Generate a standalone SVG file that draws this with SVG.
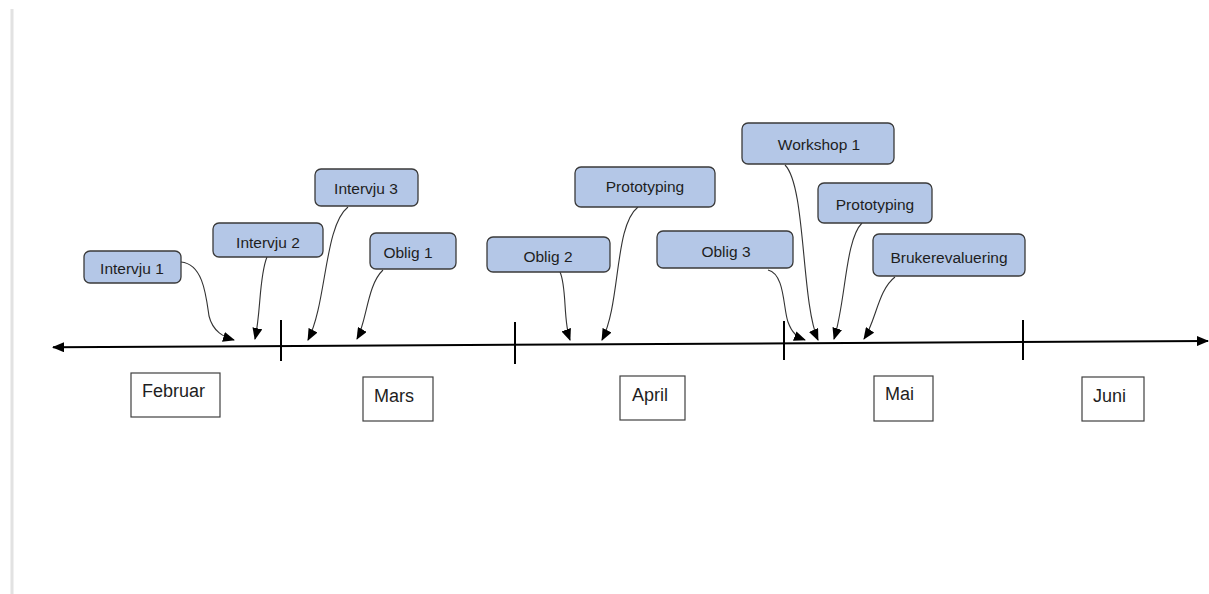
<svg xmlns="http://www.w3.org/2000/svg" width="1209" height="594" viewBox="0 0 1209 594">
<style>
.ev rect{fill:#b4c7e7;stroke:#3a3a3a;stroke-width:1.3}
.ev text{font-family:"Liberation Sans",Arial,sans-serif;font-size:15.5px;fill:#1e1e1e;text-anchor:middle}
.mo rect{fill:#fff;stroke:#404040;stroke-width:1.2}
.mo text{font-family:"Liberation Sans",Arial,sans-serif;font-size:18px;fill:#1e1e1e}
.con path{fill:none;stroke:#333;stroke-width:1.1;marker-end:url(#ah)}
.tick{stroke:#000;stroke-width:2}
</style>
<defs>
<marker id="ah" markerUnits="userSpaceOnUse" markerWidth="12" markerHeight="10" refX="11" refY="5" orient="auto">
<path d="M0,0 L12,5 L0,10 Z" fill="#000"/>
</marker>
<marker id="axh" markerUnits="userSpaceOnUse" markerWidth="12" markerHeight="10" refX="11" refY="5" orient="auto-start-reverse">
<path d="M0,0 L12,5 L0,10 Z" fill="#000"/>
</marker>
</defs>
<rect width="1209" height="594" fill="#fff"/>
<rect x="10.5" y="9" width="3" height="585" fill="#e2e2e2"/>

<g id="axis">
<line x1="53" y1="347.3" x2="1208" y2="341" stroke="#000" stroke-width="2" marker-start="url(#axh)" marker-end="url(#axh)"/>
<line class="tick" x1="281" y1="320" x2="281" y2="361"/>
<line class="tick" x1="515" y1="322" x2="515" y2="364"/>
<line class="tick" x1="784" y1="321" x2="784" y2="360"/>
<line class="tick" x1="1023" y1="320" x2="1023" y2="360"/>
</g>

<g id="connectors" class="con">
<path d="M181,262 C203,264 206,295 209,316 C213,332 224,337 234,340"/>
<path d="M267,257 C259,276 261,312 255,339"/>
<path d="M348,207 C324,226 327,303 308,340"/>
<path d="M383,270 C367,285 367,321 357,339"/>
<path d="M560,272 C567,287 563,321 570,340"/>
<path d="M638,207 C614,226 621,303 602,340"/>
<path d="M768,270 C785,274 783,308 788,322 C792,333 797,337 805,340"/>
<path d="M785,165 C806,186 801,302 818,340"/>
<path d="M862,223 C845,240 846,301 834,339"/>
<path d="M895,277 C878,290 876,321 864,339"/>
</g>

<g id="intervju1" class="ev"><rect x="84" y="251" width="97" height="32" rx="6"/><text x="132" y="274">Intervju 1</text></g>
<g id="intervju2" class="ev"><rect x="213" y="223" width="110" height="34" rx="6"/><text x="268" y="248">Intervju 2</text></g>
<g id="intervju3" class="ev"><rect x="315" y="169" width="103" height="37" rx="6"/><text x="366" y="194">Intervju 3</text></g>
<g id="oblig1" class="ev"><rect x="370" y="233" width="86" height="36" rx="6"/><text x="408" y="258">Oblig 1</text></g>
<g id="oblig2" class="ev"><rect x="487" y="237" width="123" height="35" rx="6"/><text x="548" y="262">Oblig 2</text></g>
<g id="prototyping1" class="ev"><rect x="575" y="167" width="140" height="40" rx="6"/><text x="645" y="192">Prototyping</text></g>
<g id="oblig3" class="ev"><rect x="657" y="231" width="136" height="37" rx="6"/><text x="726" y="257">Oblig 3</text></g>
<g id="workshop1" class="ev"><rect x="742" y="123" width="152" height="41" rx="6"/><text x="819" y="150">Workshop 1</text></g>
<g id="prototyping2" class="ev"><rect x="818" y="183" width="114" height="40" rx="6"/><text x="875" y="210">Prototyping</text></g>
<g id="brukerevaluering" class="ev"><rect x="873" y="234" width="152" height="42" rx="6"/><text x="949" y="263">Brukerevaluering</text></g>

<g id="februar" class="mo"><rect x="131" y="373" width="89" height="44"/><text x="142" y="397">Februar</text></g>
<g id="mars" class="mo"><rect x="363" y="377" width="70" height="44"/><text x="374" y="402">Mars</text></g>
<g id="april" class="mo"><rect x="620" y="376" width="65" height="44"/><text x="632" y="401">April</text></g>
<g id="mai" class="mo"><rect x="874" y="376" width="59" height="45"/><text x="885" y="400">Mai</text></g>
<g id="juni" class="mo"><rect x="1082" y="377" width="62" height="44"/><text x="1093" y="402">Juni</text></g>
</svg>
